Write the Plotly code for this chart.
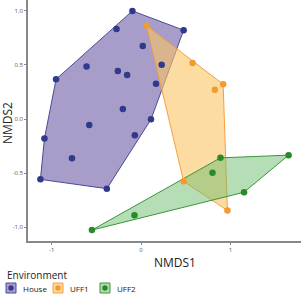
import plotly.graph_objects as go

house_x = [-0.097, 0.476, -0.275, 0.019, -0.951, -0.610, -0.260, -0.156, 0.230, 0.167,
           -0.204, 0.111, -0.580, -0.070, -1.081, -0.773, -1.126, -0.383]
house_y = [1.000, 0.822, 0.832, 0.675, 0.368, 0.485, 0.445, 0.408, 0.503, 0.326,
           0.092, -0.003, -0.055, -0.150, -0.180, -0.362, -0.558, -0.644]
uff1_x = [0.063, 0.576, 0.918, 0.825, 0.476, 0.966]
uff1_y = [0.862, 0.519, 0.322, 0.270, -0.576, -0.846]
uff2_x = [0.888, 1.650, 0.799, 1.152, -0.074, -0.550]
uff2_y = [-0.359, -0.334, -0.497, -0.677, -0.889, -1.027]

groups = ["House", "UFF1", "UFF2"]
xs = [house_x, uff1_x, uff2_x]
ys = [house_y, uff1_y, uff2_y]
point_colors = ["#2f3a8a", "#f59a2c", "#2a8a2a"]
fill_colors = ["rgba(110,90,165,0.6)", "rgba(252,196,100,0.6)", "rgba(110,190,110,0.5)"]
line_colors = ["#4a4a9a", "#f5a040", "#3a963a"]
key_fills = ["#a79cd0", "#fdd9a0", "#b0dcae"]


def hull(px, py):
    pts = sorted(set(zip(px, py)))
    def cross(o, a, b):
        return (a[0]-o[0])*(b[1]-o[1]) - (a[1]-o[1])*(b[0]-o[0])
    lower, upper = [], []
    for p in pts:
        while len(lower) >= 2 and cross(lower[-2], lower[-1], p) <= 0:
            lower.pop()
        lower.append(p)
    for p in reversed(pts):
        while len(upper) >= 2 and cross(upper[-2], upper[-1], p) <= 0:
            upper.pop()
        upper.append(p)
    h = lower[:-1] + upper[:-1]
    h.append(h[0])
    return [p[0] for p in h], [p[1] for p in h]


fig = go.Figure()
for g, x, y, fc, lc in zip(groups, xs, ys, fill_colors, line_colors):
    hx, hy = hull(x, y)
    fig.add_trace(go.Scatter(x=hx, y=hy, mode="lines", fill="toself",
                             fillcolor=fc, line=dict(color=lc, width=1),
                             showlegend=False, name=g, hoverinfo="skip"))
for g, x, y, pc in zip(groups, xs, ys, point_colors):
    fig.add_trace(go.Scatter(x=x, y=y, mode="markers", marker=dict(color=pc, size=6.5),
                             showlegend=False, name=g))

axis_common = dict(showgrid=False, zeroline=False, showline=True, linecolor="#888",
                   linewidth=1.5, ticks="outside", ticklen=2, tickcolor="#888",
                   tickfont=dict(size=6, color="#555"))
fig.update_xaxes(range=[-1.265, 1.789], tickvals=[-1, 0, 1], ticktext=["-1", "0", "1"],
                 **axis_common)
fig.update_yaxes(range=[-1.128, 1.101], tickvals=[-1, -0.5, 0, 0.5, 1],
                 ticktext=["-1.0", "-0.5", "0.0", "0.5", "1.0"], **axis_common)

PL, PR, PT, PB = 28, 301, 0, 241


def px2paper(px, py):
    return (px - PL) / (PR - PL), (PB - py) / (PB - PT)


fig.update_layout(
    width=302, height=296,
    margin=dict(l=PL, r=302 - PR, t=PT, b=296 - PB),
    plot_bgcolor="white", paper_bgcolor="white",
    font=dict(family="Open Sans, sans-serif", color="#222"),
    showlegend=False,
)

ax, ay = px2paper(175, 262)
fig.add_annotation(text="NMDS1", xref="paper", yref="paper", x=ax, y=ay,
                   showarrow=False, font=dict(size=12), xanchor="center", yanchor="middle")
ax, ay = px2paper(8, 123)
fig.add_annotation(text="NMDS2", xref="paper", yref="paper", x=ax, y=ay,
                   showarrow=False, font=dict(size=12), textangle=-90,
                   xanchor="center", yanchor="middle")

# legend (drawn manually to mimic ggplot keys)
ax, ay = px2paper(5, 275)
fig.add_annotation(text="Environment", xref="paper", yref="paper", x=ax, y=ay,
                   showarrow=False, font=dict(size=10), xanchor="left", yanchor="middle")
key_left = [6, 53, 100]
for g, kl, kf, lc, pc in zip(groups, key_left, key_fills, line_colors, point_colors):
    x0, y0 = px2paper(kl, 293)
    x1, y1 = px2paper(kl + 10, 283)
    fig.add_shape(type="rect", xref="paper", yref="paper", x0=x0, y0=y0, x1=x1, y1=y1,
                  fillcolor=kf, line=dict(color=lc, width=1))
    cx0, cy0 = px2paper(kl + 2.3, 290.7)
    cx1, cy1 = px2paper(kl + 7.7, 285.3)
    fig.add_shape(type="circle", xref="paper", yref="paper", x0=cx0, y0=cy0, x1=cx1, y1=cy1,
                  fillcolor=pc, line=dict(color=pc, width=0))
    tx, ty = px2paper(kl + 15, 288)
    fig.add_annotation(text=g, xref="paper", yref="paper", x=tx, y=ty, showarrow=False,
                       font=dict(size=8), xanchor="left", yanchor="middle")

fig.write_html("out.html")
